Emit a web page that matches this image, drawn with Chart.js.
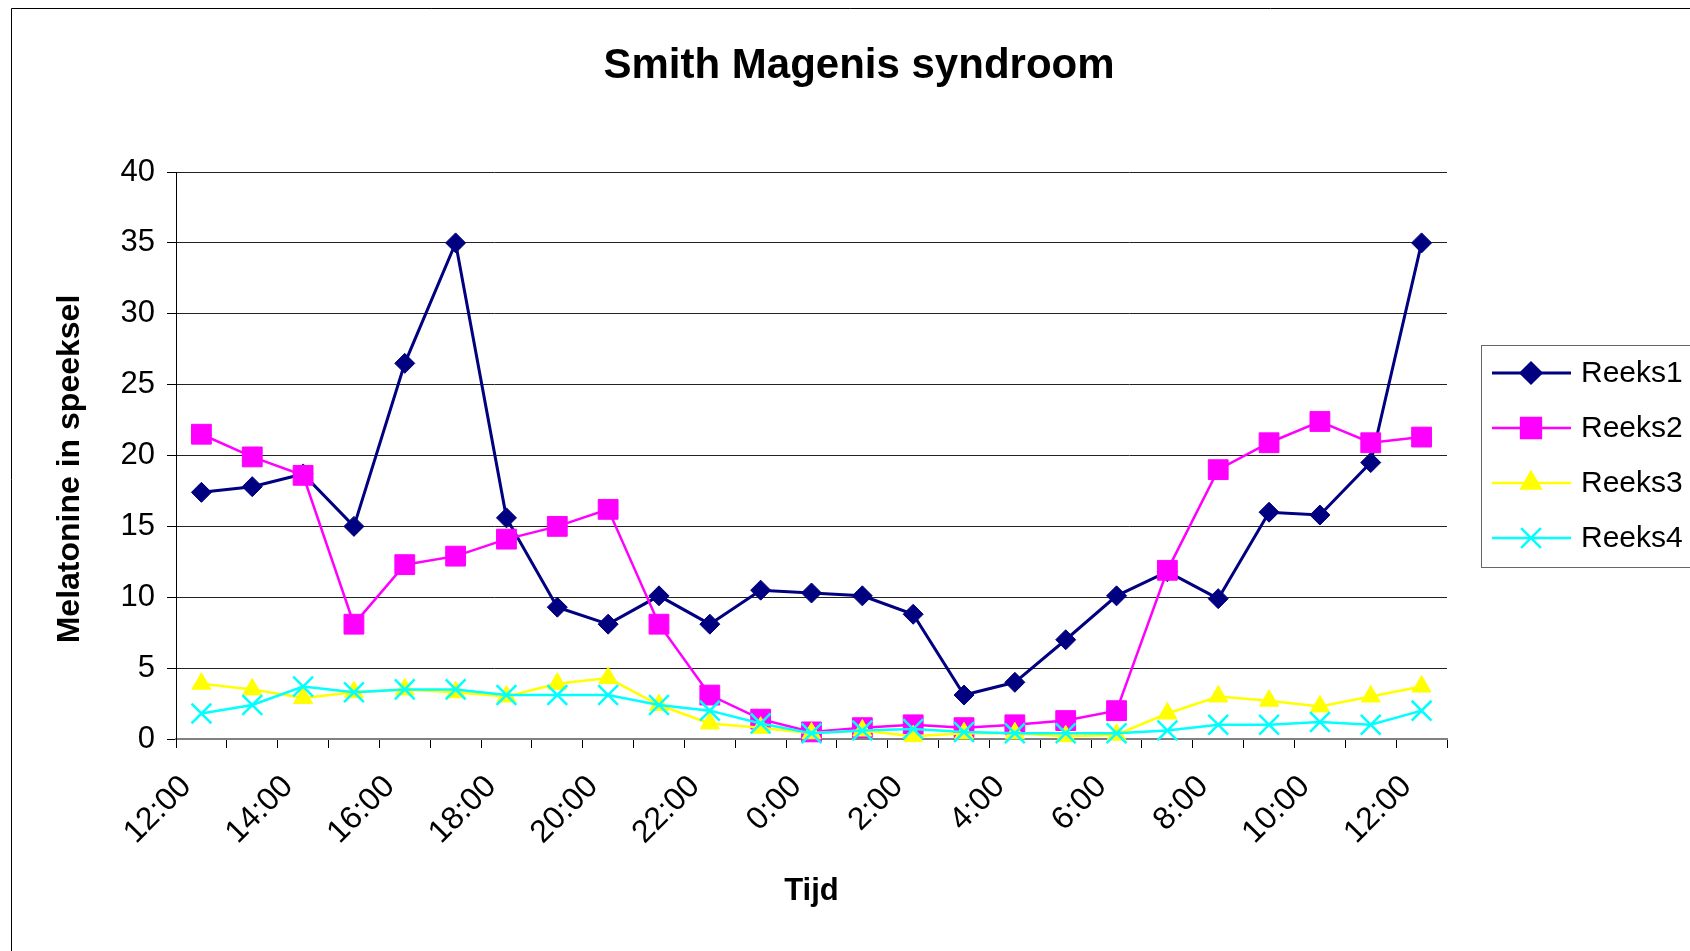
<!DOCTYPE html>
<html>
<head>
<meta charset="utf-8">
<script src="https://cdn.jsdelivr.net/npm/chart.js@4"></script>
<style>
html, body { margin: 0; padding: 0; background: #fff; }
</style>
</head>
<body>
<canvas id="myChart" width="1690" height="951"></canvas>
<script>
// categorieën (elk uur, label om de 2 uur)
var labels = ['12:00', '13:00', '14:00', '15:00', '16:00', '17:00', '18:00', '19:00', '20:00', '21:00', '22:00', '23:00',
              '0:00', '1:00', '2:00', '3:00', '4:00', '5:00', '6:00', '7:00', '8:00', '9:00', '10:00', '11:00', '12:00'];

var reeks1 = [17.4, 17.8, 18.7, 15.0, 26.5, 35.0, 15.6, 9.3, 8.1, 10.1, 8.1, 10.5, 10.3, 10.1, 8.8, 3.1, 4.0, 7.0, 10.1, 11.8, 9.9, 16.0, 15.8, 19.5, 35.0];
var reeks2 = [21.5, 19.9, 18.6, 8.1, 12.3, 12.9, 14.1, 15.0, 16.2, 8.1, 3.1, 1.4, 0.5, 0.8, 1.0, 0.8, 1.0, 1.3, 2.0, 11.9, 19.0, 20.9, 22.4, 20.9, 21.3];
var reeks3 = [3.9, 3.5, 2.9, 3.3, 3.5, 3.3, 3.0, 3.9, 4.3, 2.4, 1.1, 0.8, 0.4, 0.6, 0.2, 0.4, 0.4, 0.2, 0.3, 1.8, 3.0, 2.7, 2.3, 3.0, 3.7];
var reeks4 = [1.8, 2.4, 3.7, 3.3, 3.5, 3.5, 3.1, 3.1, 3.1, 2.4, 2.0, 1.1, 0.4, 0.6, 0.7, 0.5, 0.4, 0.4, 0.4, 0.6, 1.0, 1.0, 1.2, 1.0, 2.0];

var yTicks = [0, 5, 10, 15, 20, 25, 30, 35, 40];

var chartTitle = 'Smith Magenis syndroom';
var yTitle = 'Melatonine in speeksel';
var fontFamily = "'Liberation Sans', Arial, sans-serif";

// kader, titels en legenda
var extras = {
    id: 'extras',
    beforeDraw: function (chart) {
        var c = chart.ctx;
        c.save();
        c.fillStyle = '#fff';
        c.fillRect(0, 0, chart.width, chart.height);
        c.strokeStyle = '#000';
        c.lineWidth = 1;
        c.beginPath();
        c.moveTo(11.5, chart.height);
        c.lineTo(11.5, 8.5);
        c.lineTo(chart.width, 8.5);
        c.stroke();
        c.restore();
    },
    afterDraw: function (chart) {
        var c = chart.ctx;
        c.save();
        c.fillStyle = '#000';
        c.font = 'bold 42px ' + fontFamily;
        c.textAlign = 'center';
        c.textBaseline = 'middle';
        c.fillText(chartTitle, 859, 66);

        // y-as titel
        c.save();
        c.translate(70, 469);
        c.rotate(-Math.PI / 2);
        c.font = 'bold 32px ' + fontFamily;
        c.fillText(yTitle, 0, 0);
        c.restore();

        // legenda
        c.strokeStyle = '#666';
        c.lineWidth = 1;
        c.strokeRect(1481.5, 345.5, 260, 222);
        c.font = '30px ' + fontFamily;
        c.textAlign = 'left';
        chart.data.datasets.forEach(function (ds, i) {
            var y = 373 + i * 55;
            c.strokeStyle = ds.borderColor;
            c.lineWidth = ds.borderWidth;
            c.beginPath();
            c.moveTo(1492, y);
            c.lineTo(1571, y);
            c.stroke();
            c.fillStyle = ds.pointBackgroundColor;
            c.strokeStyle = ds.pointBorderColor;
            if (Chart.helpers && Chart.helpers.drawPoint) {
                Chart.helpers.drawPoint(c, {
                    pointStyle: ds.pointStyle,
                    radius: ds.pointRadius,
                    rotation: 0,
                    borderWidth: ds.pointBorderWidth
                }, 1531, y);
            }
            c.fillStyle = '#000';
            c.fillText(ds.label, 1581, y + 1);
        });
        c.restore();
    }
};

var ctx = document.getElementById('myChart').getContext('2d');

var myChart = new Chart(ctx, {
    type: 'line',
    data: {
        labels: labels,
        datasets: [{
            label: 'Reeks1',
            data: reeks1,
            borderColor: '#000080',
            backgroundColor: '#000080',
            borderWidth: 3,
            pointStyle: 'rectRot',
            pointRadius: 10,
            pointBackgroundColor: '#000080',
            pointBorderColor: '#000080',
            pointBorderWidth: 1,
            order: 4
        }, {
            label: 'Reeks2',
            data: reeks2,
            borderColor: '#ff00ff',
            backgroundColor: '#ff00ff',
            borderWidth: 2.5,
            pointStyle: 'rect',
            pointRadius: 14,
            pointBackgroundColor: '#ff00ff',
            pointBorderColor: '#ff00ff',
            pointBorderWidth: 1,
            order: 3
        }, {
            label: 'Reeks3',
            data: reeks3,
            borderColor: '#ffff00',
            backgroundColor: '#ffff00',
            borderWidth: 2.5,
            pointStyle: 'triangle',
            pointRadius: 11,
            pointBackgroundColor: '#ffff00',
            pointBorderColor: '#ffff00',
            pointBorderWidth: 1,
            order: 2
        }, {
            label: 'Reeks4',
            data: reeks4,
            borderColor: '#00ffff',
            backgroundColor: '#00ffff',
            borderWidth: 2.5,
            pointStyle: 'crossRot',
            pointRadius: 14,
            pointBackgroundColor: '#00ffff',
            pointBorderColor: '#00ffff',
            pointBorderWidth: 2.5,
            order: 1
        }]
    },
    options: {
        responsive: false,
        animation: false,
        clip: false,
        layout: {
            padding: { left: 0, top: 172, right: 243, bottom: 0 }
        },
        plugins: {
            legend: { display: false },
            tooltip: { enabled: false }
        },
        elements: {
            line: { tension: 0 }
        },
        scales: {
            x: {
                type: 'category',
                offset: true,
                afterFit: function (scale) { scale.height = 212; },
                grid: {
                    offset: true,
                    drawOnChartArea: false,
                    drawTicks: true,
                    tickLength: 9,
                    color: '#000',
                    lineWidth: 1
                },
                border: { display: true, color: '#808080', width: 2 },
                ticks: {
                    autoSkip: false,
                    minRotation: 45,
                    maxRotation: 45,
                    padding: 20,
                    labelOffset: -15,
                    color: '#000',
                    font: { family: fontFamily, size: 32 },
                    callback: function (value, index) {
                        return index % 2 === 0 ? labels[index] : '';
                    }
                },
                title: {
                    display: true,
                    text: 'Tijd',
                    color: '#000',
                    font: { family: fontFamily, size: 31, weight: 'bold' },
                    padding: { top: 0, bottom: 41 }
                }
            },
            y: {
                min: 0,
                max: 40,
                afterFit: function (scale) { scale.width = 176; },
                afterBuildTicks: function (scale) {
                    scale.ticks = yTicks.map(function (v) { return { value: v }; });
                },
                grid: {
                    color: '#222',
                    lineWidth: 1,
                    drawTicks: true,
                    tickLength: 9,
                    tickColor: '#000'
                },
                border: { display: true, color: '#000', width: 1 },
                ticks: {
                    padding: 12,
                    color: '#000',
                    font: { family: fontFamily, size: 31 }
                }
            }
        }
    },
    plugins: [extras]
});
</script>
</body>
</html>
